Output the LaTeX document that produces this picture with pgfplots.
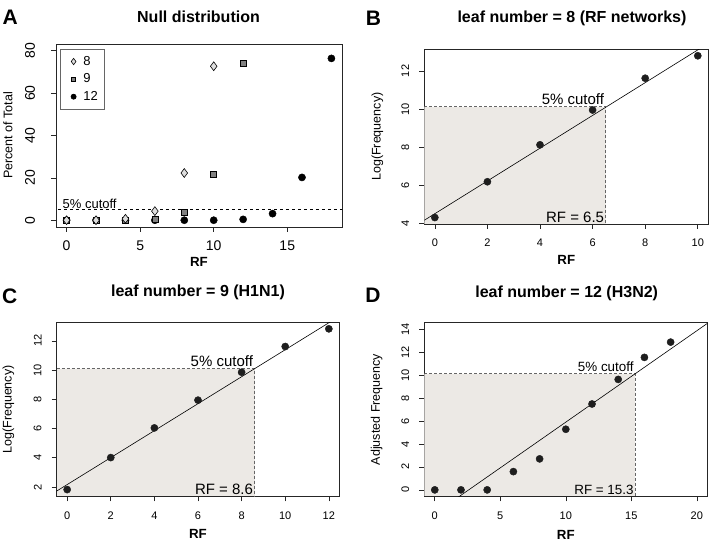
\documentclass[border=0pt]{standalone}
\usepackage{fontspec}
\setmainfont{Liberation Sans}
\usepackage{pgfplots}
\pgfplotsset{compat=1.18}
\definecolor{shade}{RGB}{236,233,229}
\definecolor{ptfill}{RGB}{30,30,30}
\newcommand{\fs}[1]{\fontsize{#1}{#1}\selectfont}
\pgfplotsset{
 rstyle/.style={
  scale only axis,
  axis line style={line width=0.7pt, black!85},
  tick align=outside,
  major tick length=5pt,
  tick style={black!85, line width=0.6pt},
  xtick pos=lower, ytick pos=left,
  /pgf/number format/assume math mode=true,
  tick label style={font=\fs{11}},
  xticklabel style={anchor=center, yshift=-14pt},
  yticklabel style={anchor=center, xshift=#1, rotate=90},
  xlabel style={font=\bfseries\fs{13.3}, anchor=center},
  ylabel style={font=\fs{12.5}, anchor=center},
  clip=true,
 },
 rstyle/.default={-14pt},
 dots/.style={only marks, mark=*, mark size=3.6pt, mark options={fill=ptfill, draw=ptfill}},
 cut/.style={black!60, line width=0.6pt, dash pattern=on 3pt off 2pt},
 lgimg/.style={legend image code/.code={\path (0pt,-3pt) (16.5pt,3pt); \draw[##1, /tikz/every mark/.append style={scale=0.72}] plot coordinates {(9pt,0pt)};}},
}
\begin{document}
\begin{tikzpicture}
\path[use as bounding box] (0pt,0pt) rectangle (719pt,544pt);
% ---------- A ----------
\begin{axis}[rstyle={-21pt}, at={(56pt,317pt)}, anchor=south west, width=286pt, height=183pt,
  xmin=-0.72, xmax=18.72, ymin=-3.2, ymax=83.2,
  xtick={0,5,10,15}, ytick={0,20,40,60,80},
  tick label style={font=\fs{14}},
  xlabel={RF}, ylabel={Percent of Total},
  xlabel style={at={(axis description cs:0.5,-0.191)}},
  ylabel style={at={(axis description cs:-0.168,0.5)}},
  reverse legend,
  legend style={at={(axis description cs:0.014,0.973)}, anchor=north west, draw=black!60, line width=0.6pt, font=\fs{13}, inner xsep=4pt, inner ysep=5pt, row sep=3pt},
  legend cell align=left]
\addplot[black, line width=0.6pt, dash pattern=on 3pt off 3pt, forget plot] coordinates {(-1,5) (20,5)};
\addplot[only marks, mark=*, mark size=3.6pt, mark options={fill=black, draw=black}, lgimg]
  coordinates {(0,0) (2,0) (4,0) (6,0) (8,0) (10,0) (12,0.4) (14,3.1) (16,20.2) (18,76.4)};
\addlegendentry{12}
\addplot[only marks, mark=square*, mark size=3pt, mark options={fill=black!50, draw=black, line width=0.6pt}, lgimg]
  coordinates {(0,0) (2,0) (4,0) (6,0.5) (8,3.7) (10,21.7) (12,74.0)};
\addlegendentry{9}
\addplot[only marks, mark=diamond*, mark size=4.4pt, mark options={fill=black!13, draw=black, line width=0.6pt}, lgimg]
  coordinates {(0,0) (2,0) (4,0.7) (6,4.3) (8,22.3) (10,72.7)};
\addlegendentry{8}
\node[anchor=south west, font=\fs{13}, inner sep=1pt] at (axis cs:-0.35,5) {5\% cutoff};
\end{axis}
% ---------- B ----------
\begin{axis}[rstyle, at={(424.3pt,320pt)}, anchor=south west, width=284pt, height=174.7pt,
  xmin=-0.4, xmax=10.4, ymin=3.96, ymax=13.14,
  xtick={0,2,4,6,8,10}, ytick={4,6,8,10,12},
  xlabel={RF}, ylabel={Log(Frequency)},
  xlabel style={at={(axis description cs:0.5,-0.206)}},
  ylabel style={at={(axis description cs:-0.165,0.5)}}]
\addplot[draw=none, fill=shade] coordinates {(-0.4,3.96) (6.5,3.96) (6.5,10.13) (-0.4,10.13)} -- cycle;
\addplot[cut] coordinates {(-0.4,10.13) (6.5,10.13) (6.5,3.96)};
\addplot[black, line width=0.6pt] coordinates {(-1,3.64) (12,14.83)};
\addplot[dots] coordinates {(0,4.3) (2,6.18) (4,8.12) (6,9.95) (8,11.62) (10,12.8)};
\node[anchor=south east, font=\fs{15}, inner sep=1.5pt] at (axis cs:6.5,10.13) {5\% cutoff};
\node[anchor=south east, font=\fs{15}, inner sep=1.5pt] at (axis cs:6.5,3.96) {RF = 6.5};
\end{axis}
% ---------- C ----------
\begin{axis}[rstyle, at={(56.7pt,47.7pt)}, anchor=south west, width=282.6pt, height=173.6pt,
  xmin=-0.48, xmax=12.48, ymin=1.36, ymax=13.24,
  xtick={0,2,4,6,8,10,12}, ytick={2,4,6,8,10,12},
  xlabel={RF}, ylabel={Log(Frequency)},
  xlabel style={at={(axis description cs:0.5,-0.215)}},
  ylabel style={at={(axis description cs:-0.171,0.5)}}]
\addplot[draw=none, fill=shade] coordinates {(-0.48,1.36) (8.6,1.36) (8.6,10.1) (-0.48,10.1)} -- cycle;
\addplot[cut] coordinates {(-0.48,10.1) (8.6,10.1) (8.6,1.36)};
\addplot[black, line width=0.6pt] coordinates {(-1,1.24) (14,15.08)};
\addplot[dots] coordinates {(0,1.82) (2,4.01) (4,6.04) (6,7.94) (8,9.85) (10,11.61) (12,12.82)};
\node[anchor=south east, font=\fs{15}, inner sep=1.5pt] at (axis cs:8.6,10.1) {5\% cutoff};
\node[anchor=south east, font=\fs{15}, inner sep=1.5pt] at (axis cs:8.6,1.36) {RF = 8.6};
\end{axis}
% ---------- D ----------
\begin{axis}[rstyle, at={(424.3pt,47.7pt)}, anchor=south west, width=283pt, height=173.6pt,
  xmin=-0.8, xmax=20.8, ymin=-0.56, ymax=14.56,
  xtick={0,5,10,15,20}, ytick={0,2,4,6,8,10,12,14},
  xlabel={RF}, ylabel={Adjusted Frequency},
  xlabel style={at={(axis description cs:0.5,-0.225)}},
  ylabel style={at={(axis description cs:-0.168,0.5)}}]
\addplot[draw=none, fill=shade] coordinates {(-0.8,-0.56) (15.3,-0.56) (15.3,10.12) (-0.8,10.12)} -- cycle;
\addplot[cut] coordinates {(-0.8,10.12) (15.3,10.12) (15.3,-0.56)};
\addplot[black, line width=0.6pt] coordinates {(1,-1.264) (22,15.452)};
\addplot[dots] coordinates {(0,0) (2,0) (4,0) (6,1.59) (8,2.70) (10,5.28) (12,7.48) (14,9.62) (16,11.54) (18,12.87)};
\node[anchor=south east, font=\fs{13.4}, inner sep=1.5pt] at (axis cs:15.3,10.12) {5\% cutoff};
\node[anchor=south east, font=\fs{13.4}, inner sep=1.5pt] at (axis cs:15.3,-0.56) {RF = 15.3};
\end{axis}
% ---------- titles and panel letters ----------
\node[font=\bfseries\fs{16}] at (198.5pt,527pt) {Null distribution};
\node[font=\bfseries\fs{16}] at (572pt,525.5pt) {leaf number = 8 (RF networks)};
\node[font=\bfseries\fs{16}] at (198pt,252pt) {leaf number = 9 (H1N1)};
\node[font=\bfseries\fs{16}] at (566.7pt,250.3pt) {leaf number = 12 (H3N2)};
\node[font=\bfseries\fs{21}] at (10.3pt,526.5pt) {A};
\node[font=\bfseries\fs{21}] at (373.5pt,525.7pt) {B};
\node[font=\bfseries\fs{21}] at (9.7pt,248pt) {C};
\node[font=\bfseries\fs{21}] at (373pt,249pt) {D};
\end{tikzpicture}
\end{document}
